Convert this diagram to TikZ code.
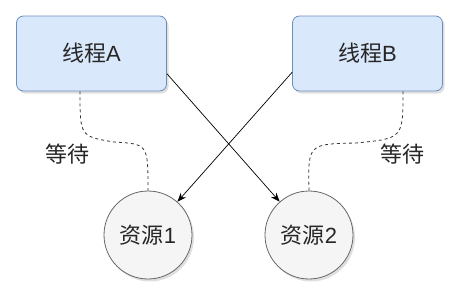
\documentclass[tikz,border=0pt]{standalone}
\usepackage{fontspec}
\setmainfont{Liberation Sans}
\newfontfamily\cjk{Noto Sans CJK SC}
\usetikzlibrary{shadows,arrows.meta}
\definecolor{boxfill}{HTML}{DAE8FC}
\definecolor{boxline}{HTML}{6C8EBF}
\definecolor{cfill}{HTML}{F5F5F5}
\definecolor{cline}{HTML}{666666}
\definecolor{edge}{HTML}{333333}
\definecolor{txt}{HTML}{262626}
\begin{document}
\begin{tikzpicture}[x=1pt,y=-1pt,
  txtfont/.style={text=txt,font=\fontsize{22}{26}\selectfont},
  thread/.style={txtfont,draw=boxline,fill=boxfill,rounded corners=7pt,minimum width=150pt,minimum height=75pt,line width=0.8pt,
    drop shadow={shadow xshift=2pt,shadow yshift=-2.5pt,opacity=0.25},inner sep=0pt},
  res/.style={txtfont,circle,draw=cline,fill=cfill,minimum size=88pt,line width=0.8pt,
    drop shadow={shadow xshift=2pt,shadow yshift=-2.5pt,opacity=0.25},inner sep=0pt},
  lock/.style={draw=black,line width=0.7pt,-{Stealth[length=9pt,width=7pt]}},
  waitline/.style={draw=edge,dashed,dash pattern=on 3pt off 3pt,line width=0.8pt},
  lbl/.style={txtfont,inner sep=0pt}]
\useasboundingbox (0,0) rectangle (460,295);
\node[thread] (A) at (91.5,53.5) {{\cjk 线程}A};
\node[thread] (B) at (367.5,53.5) {{\cjk 线程}B};
\node[res] (r1) at (148,235) {{\cjk 资源}1};
\node[res] (r2) at (309,235) {{\cjk 资源}2};
\coordinate (a1) at (114,142);
\coordinate (b1) at (356,143);
\path[waitline] ([xshift=-11.5pt]A.south) .. controls +(0,45) .. (a1) .. controls (148,144) .. (r1.north);
\path[waitline] ([xshift=35.5pt]B.south) .. controls +(0,47) .. (b1) .. controls (308,144) .. (r2.north);
\node[lbl] (w1) at (67,154) {\cjk 等待};
\node[lbl] (w2) at (402,154) {\cjk 等待};
\path[lock] (A.-15) -- (r2);
\path[lock] (B.194) -- (r1);
\end{tikzpicture}
\end{document}
